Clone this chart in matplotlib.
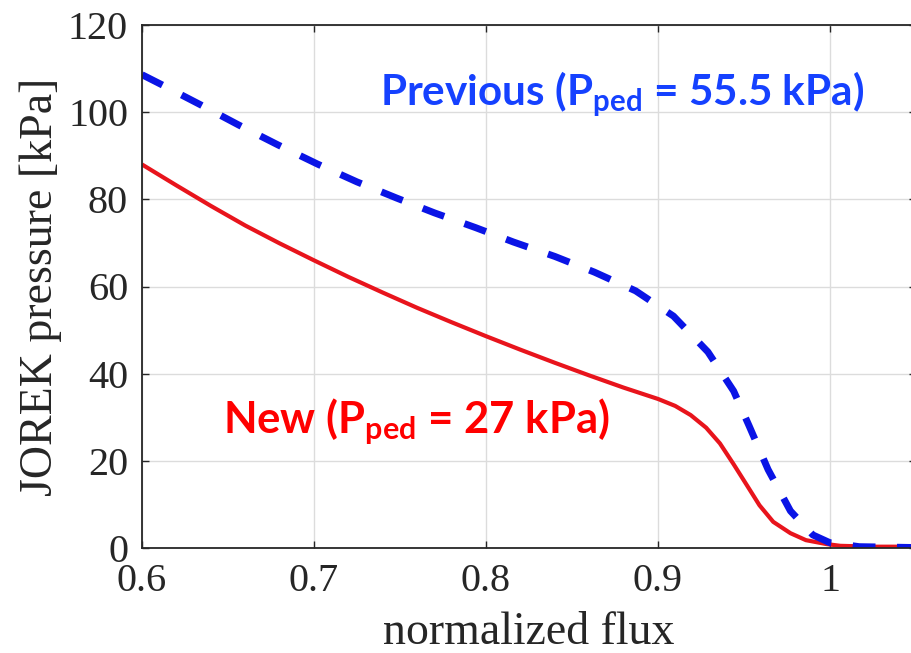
import matplotlib
matplotlib.use("Agg")
import matplotlib.pyplot as plt

# pressure profiles vs normalized flux
flux_new = [0.600, 0.620, 0.640, 0.660, 0.680, 0.700, 0.720, 0.740, 0.760, 0.780,
            0.800, 0.820, 0.840, 0.860, 0.880, 0.890, 0.900, 0.910, 0.919, 0.928,
            0.936, 0.944, 0.952, 0.959, 0.967, 0.977, 0.986, 0.998, 1.006, 1.025,
            1.050]
p_new = [88.0, 83.2, 78.5, 74.0, 69.9, 66.0, 62.2, 58.6, 55.1, 51.8,
         48.6, 45.5, 42.5, 39.6, 36.8, 35.5, 34.2, 32.6, 30.5, 27.6,
         24.0, 19.2, 14.2, 9.8, 6.0, 3.4, 1.8, 0.9, 0.5, 0.3,
         0.3]

flux_prev = [0.600, 0.611, 0.634, 0.656, 0.679, 0.702, 0.725, 0.748, 0.770, 0.794,
             0.816, 0.840, 0.863, 0.887, 0.909, 0.929, 0.944, 0.953, 0.964, 0.977,
             0.990, 1.000, 1.017, 1.050]
p_prev = [108.6, 106.4, 101.7, 97.1, 92.5, 88.1, 84.0, 80.3, 76.9, 73.5,
          70.2, 66.9, 63.3, 59.0, 53.2, 45.0, 36.0, 28.0, 18.0, 8.5,
          3.0, 1.2, 0.3, 0.1]

x_ticks = [0.6, 0.7, 0.8, 0.9, 1.0]
x_ticklabels = ["0.6", "0.7", "0.8", "0.9", "1"]
y_ticks = [0, 20, 40, 60, 80, 100, 120]

plt.rcParams["mathtext.fontset"] = "custom"
plt.rcParams["mathtext.rm"] = "Lato:bold"
plt.rcParams["mathtext.bf"] = "Lato:bold"
plt.rcParams["mathtext.it"] = "Lato:bold"

fig = plt.figure(figsize=(9.12, 6.53), dpi=100)
ax = fig.add_axes([142 / 912, 105 / 653, 774 / 912, 523 / 653])

ax.plot(flux_new, p_new, color="#e8141c", linewidth=3.0, solid_capstyle="butt")
ax.plot(flux_prev, p_prev, color="#0a14e6", linewidth=5.0,
        dashes=(3.3, 3.1), dash_capstyle="butt")

ax.set_xlim(0.6, 1.05)
ax.set_ylim(0, 120)
ax.set_xticks(x_ticks)
ax.set_xticklabels(x_ticklabels)
ax.set_yticks(y_ticks)

serif = "Liberation Serif"
for lbl in ax.get_xticklabels() + ax.get_yticklabels():
    lbl.set_fontfamily(serif)
    lbl.set_fontsize(29)
    lbl.set_color("#262626")

ax.tick_params(direction="in", length=5, width=1.0, color="#262626",
               top=True, right=True)
ax.tick_params(axis="x", pad=11)
ax.tick_params(axis="y", pad=10)
ax.grid(True, color="#dcdcdc", linewidth=1.0)
ax.set_axisbelow(True)
for name, sp in ax.spines.items():
    sp.set_color("#262626")
    sp.set_linewidth(1.3)
ax.spines["right"].set_visible(False)

ax.set_xlabel("normalized flux", fontfamily=serif, fontsize=33, color="#262626")
ax.set_ylabel("JOREK pressure [kPa]", fontfamily=serif, fontsize=33, color="#262626")
ax.xaxis.set_label_coords(0.4994, -0.121)
ax.yaxis.set_label_coords((62 - 142) / 774, 0.5)

ax.text(0.6471, 26.4, r"New (P$_{\mathrm{ped}}$ = 27 kPa)", color="#ff0000",
        fontfamily="Lato", fontweight="bold", fontsize=31.4)
ax.text(0.7385, 101.5, r"Previous (P$_{\mathrm{ped}}$ = 55.5 kPa)", color="#1541ff",
        fontfamily="Lato", fontweight="bold", fontsize=30.4)

fig.savefig("out.png", dpi=100)
